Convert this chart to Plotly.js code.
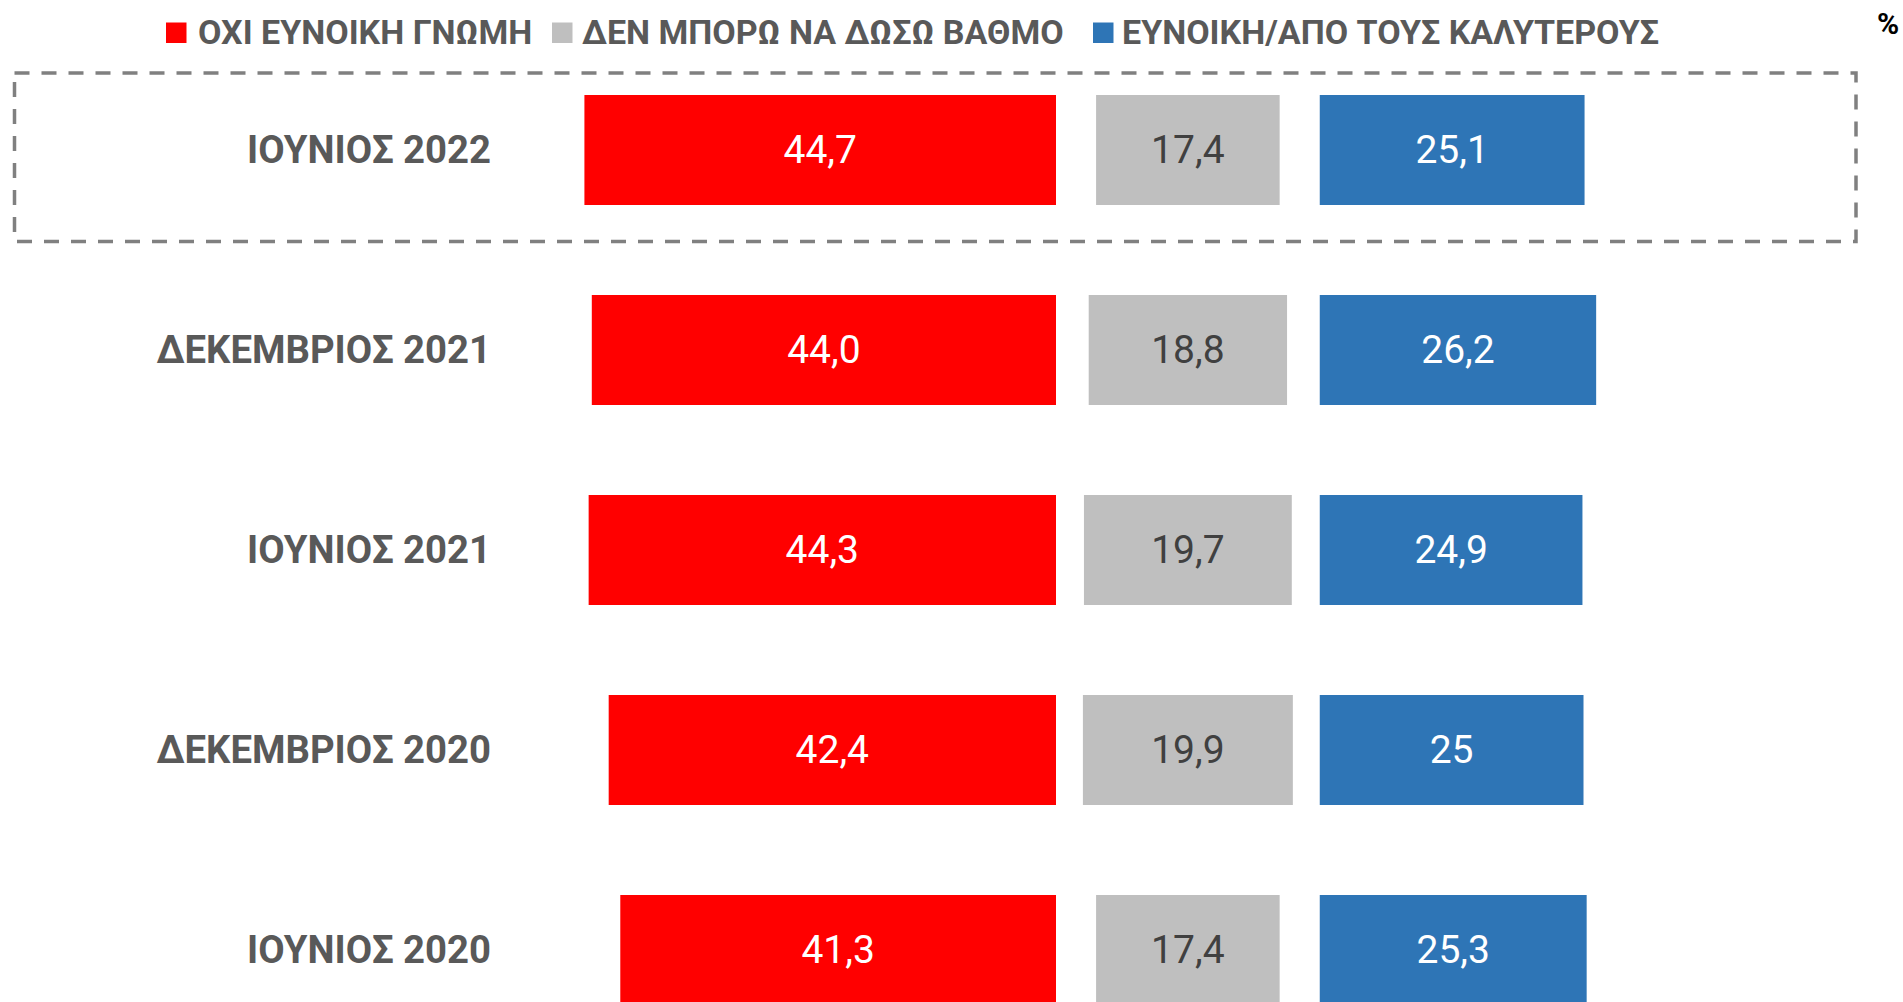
<!DOCTYPE html>
<html>
<head>
<meta charset="utf-8">
<script src="https://cdn.plot.ly/plotly-3.0.1.min.js"></script>
<style>
  html, body { margin: 0; padding: 0; background: #ffffff; }
  #chart { width: 1903px; height: 1002px; }
</style>
</head>
<body>
<div id="chart"></div>
<script>
// ---- data ----
const categories = ["ΙΟΥΝΙΟΣ 2022", "ΔΕΚΕΜΒΡΙΟΣ 2021", "ΙΟΥΝΙΟΣ 2021", "ΔΕΚΕΜΒΡΙΟΣ 2020", "ΙΟΥΝΙΟΣ 2020"];
const seriesNames = ["ΟΧΙ ΕΥΝΟΙΚΗ ΓΝΩΜΗ", "ΔΕΝ ΜΠΟΡΩ ΝΑ ΔΩΣΩ ΒΑΘΜΟ", "ΕΥΝΟΙΚΗ/ΑΠΟ ΤΟΥΣ ΚΑΛΥΤΕΡΟΥΣ"];
const unfavorable = [44.7, 44.0, 44.3, 42.4, 41.3];
const cannotRate = [17.4, 18.8, 19.7, 19.9, 17.4];
const favorable = [25.1, 26.2, 24.9, 25, 25.3];
const unfavorableLabels = ["44,7", "44,0", "44,3", "42,4", "41,3"];
const cannotRateLabels = ["17,4", "18,8", "19,7", "19,9", "17,4"];
const favorableLabels = ["25,1", "26,2", "24,9", "25", "25,3"];
const unitLabel = "%";

// ---- styling ----
const colors = ["#FF0000", "#BFBFBF", "#2E75B6"];
const textColors = ["#FFFFFF", "#404040", "#FFFFFF"];
const FONT = "Roboto, 'Noto Sans', 'DejaVu Sans', sans-serif";
const GREY_CENTER = 12.5;   // centre of the middle column (axis units)
const BLUE_START = 25;      // start of the right column (axis units)

const W = 1903, H = 1002, ML = 500;
const PW = W - ML;
const px = v => (v - ML) / PW;         // pixel x -> paper x
const py = v => 1 - v / H;             // pixel y -> paper y

const valueFont = (i) => ({ family: FONT, size: 39, color: textColors[i] });

const traces = [
  {
    type: "bar", orientation: "h", name: seriesNames[0],
    y: categories, x: unfavorable, base: unfavorable.map(v => -v),
    text: unfavorableLabels, textposition: "inside", insidetextanchor: "middle",
    textangle: 0, constraintext: "none",
    textfont: valueFont(0), marker: { color: colors[0] },
    showlegend: false, hoverinfo: "skip"
  },
  {
    type: "bar", orientation: "h", name: seriesNames[1],
    y: categories, x: cannotRate, base: cannotRate.map(v => GREY_CENTER - v / 2),
    text: cannotRateLabels, textposition: "inside", insidetextanchor: "middle",
    textangle: 0, constraintext: "none",
    textfont: valueFont(1), marker: { color: colors[1] },
    showlegend: false, hoverinfo: "skip"
  },
  {
    type: "bar", orientation: "h", name: seriesNames[2],
    y: categories, x: favorable, base: favorable.map(() => BLUE_START),
    text: favorableLabels, textposition: "inside", insidetextanchor: "middle",
    textangle: 0, constraintext: "none",
    textfont: valueFont(2), marker: { color: colors[2] },
    showlegend: false, hoverinfo: "skip"
  }
];

// custom legend
const legendSwatchX = [166, 552, 1093];
const legendTextX = [196, 580, 1120];
const shapes = [
  {
    type: "rect", xref: "paper", yref: "paper",
    x0: px(14.5), x1: px(1856), y0: py(73), y1: py(241.5),
    line: { color: "#808080", width: 3.5, dash: "15px,12px" },
    fillcolor: "rgba(0,0,0,0)"
  }
];
const annotations = [];
seriesNames.forEach((name, i) => {
  shapes.push({
    type: "rect", xref: "paper", yref: "paper",
    x0: px(legendSwatchX[i]), x1: px(legendSwatchX[i] + 20.5),
    y0: py(22.5), y1: py(43),
    line: { width: 0 }, fillcolor: colors[i]
  });
  annotations.push({
    xref: "paper", yref: "paper", x: px(legendTextX[i]), y: py(32),
    xanchor: "left", yanchor: "middle", showarrow: false,
    text: name,
    font: { family: FONT, size: 34, color: "#595959", weight: 700 }
  });
});
annotations.push({
  xref: "paper", yref: "paper", x: px(1888), y: py(24),
  xanchor: "center", yanchor: "middle", showarrow: false,
  text: unitLabel,
  font: { family: FONT, size: 30, color: "#000000", weight: 700 }
});

const layout = {
  width: W, height: H,
  margin: { l: ML, r: 0, t: 0, b: 0, pad: 0 },
  paper_bgcolor: "#ffffff", plot_bgcolor: "#ffffff",
  barmode: "overlay", bargap: 0.45,
  showlegend: false,
  xaxis: {
    range: [(ML - 1056) / 10.55, (W - 1056) / 10.55],
    showgrid: false, zeroline: false, showticklabels: false, showline: false, ticks: ""
  },
  yaxis: {
    type: "category", categoryorder: "array", categoryarray: categories,
    range: [4.26, -0.75],
    showgrid: false, zeroline: false, showline: false, ticks: "",
    ticklabelstandoff: 8,
    tickfont: { family: FONT, size: 38.3, color: "#595959", weight: 700 }
  },
  shapes: shapes,
  annotations: annotations
};

Plotly.newPlot("chart", traces, layout, { staticPlot: true, displayModeBar: false });
</script>
</body>
</html>
